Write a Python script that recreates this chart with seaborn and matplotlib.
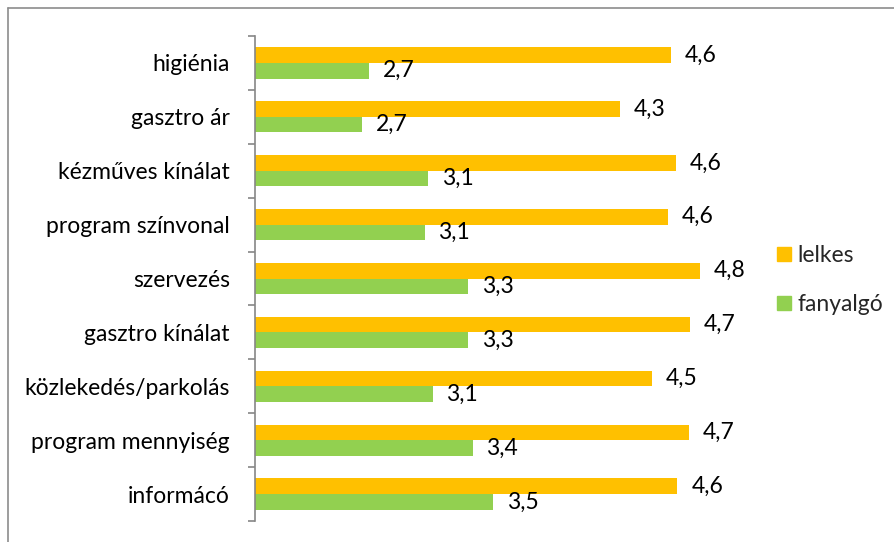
import matplotlib
matplotlib.use("Agg")
import matplotlib.pyplot as plt
import seaborn as sns
import pandas as pd
from matplotlib.lines import Line2D
from matplotlib.ticker import FixedLocator

categories = [
    "higiénia",
    "gasztro ár",
    "kézműves kínálat",
    "program színvonal",
    "szervezés",
    "gasztro kínálat",
    "közlekedés/parkolás",
    "program mennyiség",
    "informácó",
]
lelkes = [4.60, 4.28, 4.63, 4.58, 4.78, 4.72, 4.48, 4.71, 4.64]
fanyalgo = [2.71, 2.67, 3.08, 3.06, 3.33, 3.33, 3.11, 3.36, 3.49]
series = ["lelkes", "fanyalgó"]
colors = ["#FFC000", "#92D050"]

df = pd.DataFrame({
    "kategoria": categories * 2,
    "ertek": lelkes + fanyalgo,
    "csoport": [series[0]] * len(categories) + [series[1]] * len(categories),
})

sns.set_style("white")
plt.rcParams["font.family"] = ["Lato", "DejaVu Sans"]
FS = 16.5

fig = plt.figure(figsize=(8.94, 5.42), dpi=100)
ax = fig.add_axes([255 / 894, 1 - 521 / 542, 480 / 894, 485 / 542])

sns.barplot(data=df, y="kategoria", x="ertek", hue="csoport", order=categories,
            hue_order=series, palette=colors, width=0.58, orient="h",
            saturation=1, legend=False, ax=ax, edgecolor="none")

for cont in ax.containers:
    labels = [f"{b.get_width():.1f}".replace(".", ",") for b in cont]
    ax.bar_label(cont, labels=labels, padding=10, fontsize=FS, color="black")

ax.set_xlim(2, 5)
ax.set_ylim(len(categories) - 0.5, -0.5)
ax.set_xlabel("")
ax.set_ylabel("")
ax.set_xticks([])

for side in ["top", "right", "bottom"]:
    ax.spines[side].set_visible(False)
ax.spines["left"].set_color("#868686")
ax.spines["left"].set_linewidth(1.2)

ax.yaxis.set_minor_locator(FixedLocator([i - 0.5 for i in range(len(categories) + 1)]))
ax.tick_params(axis="y", which="major", length=0, pad=18, labelsize=FS, labelcolor="black")
ax.tick_params(axis="y", which="minor", length=5, width=1.2, color="#868686", left=True)

handles = [Line2D([0], [0], marker="s", linestyle="none", markersize=10,
                  markerfacecolor=c, markeredgecolor=c) for c in colors]
fig.legend(handles, series, loc="center left", bbox_to_anchor=(752 / 894, 1 - 280 / 542),
           frameon=False, fontsize=FS, handletextpad=0.1, labelspacing=1.2,
           handlelength=1.0)

# chart frame
fig.add_artist(Line2D([8 / 894, 8 / 894], [0, 1 - 8 / 542], transform=fig.transFigure,
                      color="#8c8c8c", linewidth=1.2))
fig.add_artist(Line2D([8 / 894, 1], [1 - 8 / 542, 1 - 8 / 542], transform=fig.transFigure,
                      color="#8c8c8c", linewidth=1.2))

fig.savefig("out.png", dpi=100)
